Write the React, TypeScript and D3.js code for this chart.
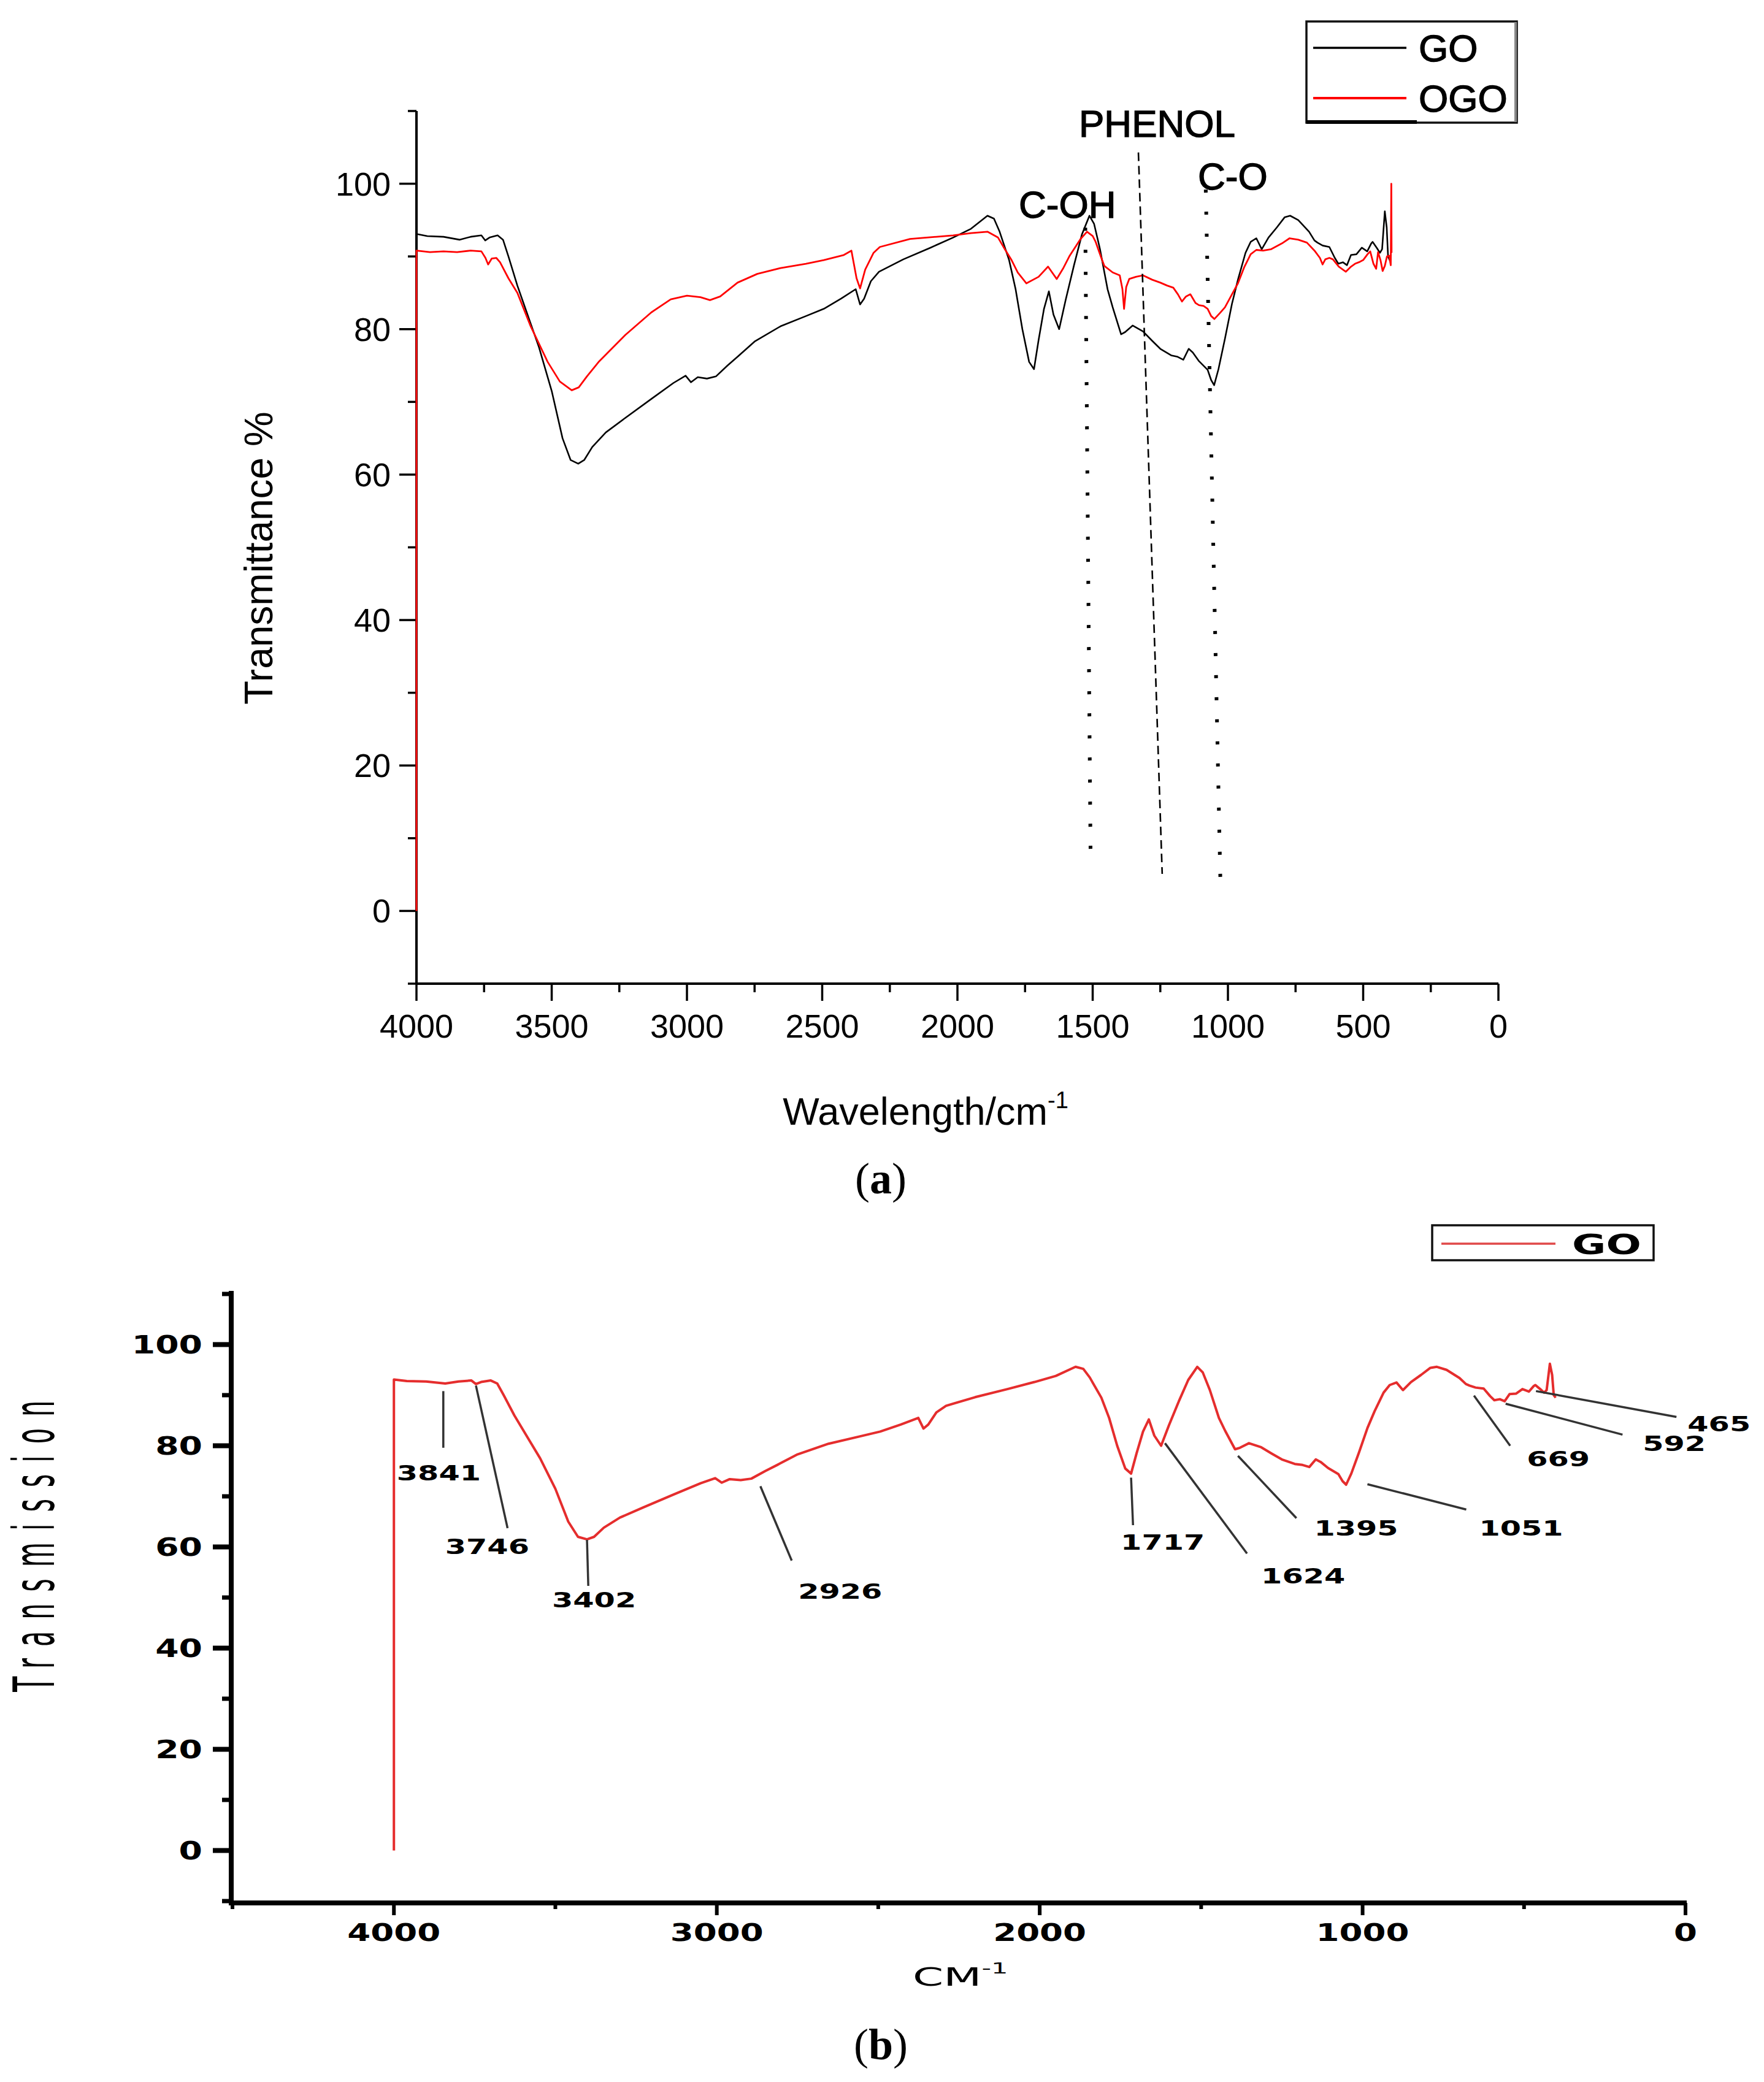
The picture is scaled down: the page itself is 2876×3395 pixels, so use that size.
import React from "react";
import * as d3 from "d3";

// FTIR spectra, [wavenumber (cm-1), transmittance %]
const goSpectrum: [number, number][] = [
  [4000, 0], [4000, 93.1], [3960, 92.8], [3900, 92.7], [3841, 92.3], [3800, 92.7],
  [3760, 92.9], [3746, 92.2], [3730, 92.6], [3700, 92.9], [3680, 92.3], [3660, 90.0],
  [3627, 86.0], [3580, 81.0], [3547, 77.5], [3500, 71.5], [3460, 65.0], [3430, 62.0],
  [3402, 61.5], [3380, 62.0], [3350, 63.8], [3300, 65.8], [3228, 67.8], [3132, 70.4],
  [3050, 72.6], [3005, 73.6], [2985, 72.7], [2960, 73.4], [2926, 73.2], [2893, 73.5],
  [2850, 75.0], [2813, 76.2], [2750, 78.3], [2654, 80.4], [2560, 81.8], [2494, 82.8],
  [2430, 84.2], [2376, 85.5], [2360, 83.4], [2345, 84.2], [2320, 86.6], [2290, 87.9],
  [2200, 89.6], [2100, 91.2], [2016, 92.6], [1950, 93.8], [1889, 95.6], [1865, 95.2],
  [1845, 93.5], [1809, 89.5], [1785, 85.5], [1760, 80.0], [1735, 75.5], [1717, 74.5],
  [1700, 78.5], [1680, 82.8], [1662, 85.2], [1645, 82.0], [1624, 80.0], [1600, 84.0],
  [1569, 88.8], [1540, 93.0], [1512, 95.6], [1495, 94.5], [1473, 91.0], [1445, 85.5],
  [1426, 83.0], [1395, 79.3], [1380, 79.6], [1352, 80.5], [1314, 79.7], [1280, 78.4],
  [1250, 77.3], [1210, 76.4], [1186, 76.2], [1165, 75.8], [1145, 77.3], [1130, 76.8],
  [1107, 75.6], [1075, 74.4], [1062, 73.0], [1051, 72.3], [1035, 74.5], [1011, 78.7],
  [985, 83.5], [963, 86.8], [935, 90.5], [916, 92.0], [895, 92.5], [875, 91.0],
  [850, 92.6], [819, 94.0], [790, 95.4], [770, 95.6], [740, 95.0], [700, 93.4],
  [680, 92.2], [669, 91.9], [650, 91.5], [625, 91.3], [605, 89.8], [592, 89.0],
  [575, 89.2], [560, 88.8], [545, 90.2], [525, 90.3], [505, 91.2], [485, 90.7],
  [470, 91.8], [465, 92.0], [450, 91.2], [438, 90.5], [430, 91.0], [420, 96.2],
  [413, 94.0], [408, 90.0], [402, 89.5],
];

const ogoSpectrum: [number, number][] = [
  [4000, 0], [4000, 90.8], [3950, 90.6], [3900, 90.7], [3850, 90.6], [3800, 90.8],
  [3760, 90.7], [3745, 89.8], [3735, 88.9], [3722, 89.7], [3705, 89.8], [3691, 89.2],
  [3660, 87.0], [3627, 85.0], [3579, 80.5], [3515, 75.5], [3470, 72.8], [3426, 71.6],
  [3400, 72.0], [3370, 73.5], [3324, 75.6], [3228, 79.2], [3132, 82.3], [3060, 84.1],
  [3000, 84.6], [2950, 84.4], [2915, 84.0], [2877, 84.5], [2813, 86.4], [2740, 87.6],
  [2654, 88.4], [2560, 89.0], [2494, 89.5], [2420, 90.2], [2392, 90.8], [2373, 87.0],
  [2360, 85.6], [2341, 88.2], [2310, 90.5], [2287, 91.3], [2175, 92.4], [2016, 92.9],
  [1950, 93.2], [1889, 93.4], [1850, 92.6], [1825, 91.0], [1800, 89.5], [1777, 87.8],
  [1745, 86.3], [1700, 87.2], [1665, 88.6], [1650, 87.8], [1633, 86.9], [1610, 88.3],
  [1585, 90.1], [1545, 92.4], [1521, 93.4], [1500, 92.8], [1489, 92.0], [1470, 90.0],
  [1457, 88.7], [1426, 87.8], [1400, 87.4], [1390, 85.5], [1384, 82.8], [1376, 85.8],
  [1365, 86.9], [1340, 87.2], [1314, 87.4], [1280, 86.8], [1250, 86.4], [1225, 86.0],
  [1202, 85.7], [1185, 84.8], [1170, 83.8], [1155, 84.5], [1139, 84.8], [1120, 83.6],
  [1107, 83.3], [1090, 83.2], [1075, 82.8], [1062, 81.8], [1050, 81.4], [1030, 82.2],
  [1011, 83.0], [985, 84.8], [963, 86.3], [940, 88.5], [916, 90.3], [895, 90.9],
  [870, 90.8], [840, 91.0], [800, 91.8], [772, 92.5], [740, 92.3], [708, 91.9],
  [680, 90.8], [660, 89.8], [650, 88.9], [640, 89.6], [625, 89.8], [612, 89.6],
  [590, 88.6], [564, 87.9], [545, 88.6], [530, 89.0], [516, 89.2], [500, 89.5],
  [484, 90.3], [474, 90.7], [462, 89.0], [452, 88.3], [445, 90.6], [436, 89.5],
  [428, 88.0], [420, 88.7], [412, 90.0], [404, 90.1], [398, 88.8], [396, 100], [395, 90.5],
];

const xTicksA = [4000, 3500, 3000, 2500, 2000, 1500, 1000, 500, 0];
const xMinorA = [3750, 3250, 2750, 2250, 1750, 1250, 750, 250];
const xTicksB = [4000, 3000, 2000, 1000, 0];
const xMinorB = [4500, 3500, 2500, 1500, 500];
const yTicks = [0, 20, 40, 60, 80, 100];
const yMinor = [-10, 10, 30, 50, 70, 90, 110];

// band assignments drawn over panel (a)
const bands = [
  { label: "C-OH", x1: 1528, y1: 97.0, x2: 1508, y2: 8.4, kind: "dot", tx: 1773, ty: 95.3 },
  { label: "PHENOL", x1: 1331, y1: 104.3, x2: 1243, y2: 5.1, kind: "dash", tx: 1551, ty: 106.5 },
  { label: "C-O", x1: 1082, y1: 99.2, x2: 1027, y2: 2.6, kind: "dot", tx: 1111, ty: 99.2 },
];

// peak labels of panel (b): leader line from/to, label centre/baseline
const peaks = [
  { label: "3841", from: [3847, 90.8], to: [3847, 79.6], at: [3861, 73.1] },
  { label: "3746", from: [3746, 91.9], to: [3648, 63.7], at: [3711, 58.6] },
  { label: "3402", from: [3402, 61.4], to: [3398, 52.3], at: [3380, 48.1] },
  { label: "2926", from: [2865, 72.0], to: [2768, 57.3], at: [2618, 49.7] },
  { label: "1717", from: [1717, 73.7], to: [1711, 64.3], at: [1619, 59.5] },
  { label: "1624", from: [1612, 80.5], to: [1358, 58.7], at: [1184, 52.8] },
  { label: "1395", from: [1386, 78.0], to: [1205, 65.7], at: [1020, 62.2] },
  { label: "1051", from: [985, 72.4], to: [679, 67.4], at: [509, 62.2] },
  { label: "669", from: [655, 89.9], to: [543, 80.0], at: [394, 75.9] },
  { label: "592", from: [557, 88.3], to: [195, 82.2], at: [35, 79.0] },
  { label: "465", from: [463, 90.8], to: [28, 85.7], at: [-104, 82.8] },
];

const sansA = "'Liberation Sans', Arial, sans-serif";
const sansB = "'DejaVu Sans', Verdana, sans-serif";
const serif = "'Liberation Serif', 'Times New Roman', serif";

function PanelA() {
  const x = d3.scaleLinear().domain([4000, 0]).range([679, 2443]);
  const y = d3.scaleLinear().domain([-10, 110]).range([1604, 181]);
  const line = d3.line<[number, number]>().x(d => x(d[0])).y(d => y(d[1]));
  const axisY = y(-10);

  return (
    <g>
      {/* axes */}
      <line x1={x(4000)} x2={x(0)} y1={axisY} y2={axisY} stroke="#000" strokeWidth={4} />
      <line x1={x(4000)} x2={x(4000)} y1={y(110)} y2={axisY} stroke="#000" strokeWidth={4} />
      {xTicksA.map(t => (
        <g key={"xa" + t}>
          <line x1={x(t)} x2={x(t)} y1={axisY} y2={axisY + 28} stroke="#000" strokeWidth={3.5} />
          <text x={x(t)} y={1692} textAnchor="middle" fontFamily={sansA} fontSize={54}>{t}</text>
        </g>
      ))}
      {xMinorA.map(t => (
        <line key={"xam" + t} x1={x(t)} x2={x(t)} y1={axisY} y2={axisY + 14} stroke="#000" strokeWidth={3.5} />
      ))}
      {yTicks.map(t => (
        <g key={"ya" + t}>
          <line x1={x(4000) - 28} x2={x(4000)} y1={y(t)} y2={y(t)} stroke="#000" strokeWidth={3.5} />
          <text x={637} y={y(t) + 19} textAnchor="end" fontFamily={sansA} fontSize={54}>{t}</text>
        </g>
      ))}
      {yMinor.map(t => (
        <line key={"yam" + t} x1={x(4000) - 14} x2={x(4000)} y1={y(t)} y2={y(t)} stroke="#000" strokeWidth={3.5} />
      ))}

      {/* spectra */}
      <path d={line(goSpectrum) ?? ""} fill="none" stroke="#000" strokeWidth={2.6} strokeLinejoin="round" />
      <path d={line(ogoSpectrum) ?? ""} fill="none" stroke="#ff0000" strokeWidth={2.8} strokeLinejoin="round" />

      {/* band markers */}
      {bands.map(b => (
        <g key={b.label}>
          <line
            x1={x(b.x1)} y1={y(b.y1)} x2={x(b.x2)} y2={y(b.y2)}
            stroke="#000"
            strokeWidth={b.kind === "dot" ? 6 : 2.6}
            strokeDasharray={b.kind === "dot" ? "5 31" : "14 8"}
          />
          <text x={x(b.tx)} y={y(b.ty)} fontFamily={sansA} fontSize={62} stroke="#000" strokeWidth={1.4}>
            {b.label}
          </text>
        </g>
      ))}

      {/* axis titles */}
      <text transform="translate(444,910) rotate(-90)" textAnchor="middle" fontFamily={sansA} fontSize={64}>
        Transmittance %
      </text>
      <text x={1509} y={1834} textAnchor="middle" fontFamily={sansA} fontSize={63}>
        Wavelength/cm
        <tspan fontSize={38} dy={-27}>-1</tspan>
      </text>
      <text x={1436} y={1946} textAnchor="middle" fontFamily={serif} fontSize={72}>
        (<tspan fontWeight="bold">a</tspan>)
      </text>

      {/* legend */}
      <rect x={2130} y={35} width={343} height={165} fill="#fff" stroke="#111" strokeWidth={3.5} />
      <line x1={2471} x2={2471} y1={36} y2={199} stroke="#888" strokeWidth={4} />
      <line x1={2130} x2={2310} y1={199} y2={199} stroke="#000" strokeWidth={6} />
      <line x1={2141} x2={2293} y1={78} y2={78} stroke="#000" strokeWidth={3.5} />
      <line x1={2141} x2={2293} y1={160} y2={160} stroke="#ff0000" strokeWidth={4} />
      <text x={2313} y={100} fontFamily={sansA} fontSize={62} stroke="#000" strokeWidth={1.4}>GO</text>
      <text x={2313} y={182} fontFamily={sansA} fontSize={62} stroke="#000" strokeWidth={1.4}>OGO</text>
    </g>
  );
}

// horizontally stretched text, as set in panel (b)
function Wide({ x, y, sx, anchor, size, weight, children }: any) {
  return (
    <text
      transform={`translate(${x},${y}) scale(${sx},1)`}
      textAnchor={anchor}
      fontFamily={sansB}
      fontSize={size}
      fontWeight={weight}
    >
      {children}
    </text>
  );
}

function PanelB() {
  const x = d3.scaleLinear().domain([4500, 0]).range([379, 2748]);
  const y = d3.scaleLinear().domain([-10, 110]).range([3100, 2110]);
  const line = d3.line<[number, number]>().x(d => x(d[0])).y(d => y(d[1]));
  const axisY = 3103;
  const axisX = 377;
  const red = "#e52d2d";

  return (
    <g>
      <line x1={axisX - 4} x2={x(0) + 2} y1={axisY} y2={axisY} stroke="#000" strokeWidth={8} />
      <line x1={axisX} x2={axisX} y1={2105} y2={axisY} stroke="#000" strokeWidth={8} />
      {xTicksB.map(t => (
        <g key={"xb" + t}>
          <line x1={x(t)} x2={x(t)} y1={axisY} y2={axisY + 20} stroke="#000" strokeWidth={6} />
          <Wide x={x(t)} y={3165} sx={1.4} anchor="middle" size={39} weight="bold">{t}</Wide>
        </g>
      ))}
      {xMinorB.map(t => (
        <line key={"xbm" + t} x1={x(t)} x2={x(t)} y1={axisY} y2={axisY + 10} stroke="#000" strokeWidth={6} />
      ))}
      {yTicks.map(t => (
        <g key={"yb" + t}>
          <line x1={axisX - 30} x2={axisX} y1={y(t)} y2={y(t)} stroke="#000" strokeWidth={8} />
          <Wide x={330} y={y(t) + 14} sx={1.38} anchor="end" size={40} weight="bold">{t}</Wide>
        </g>
      ))}
      {yMinor.map(t => (
        <line key={"ybm" + t} x1={axisX - 15} x2={axisX} y1={y(t)} y2={y(t)} stroke="#000" strokeWidth={7} />
      ))}

      <path d={line(goSpectrum) ?? ""} fill="none" stroke={red} strokeWidth={4} strokeLinejoin="round" />

      {peaks.map(p => (
        <g key={p.label}>
          <line
            x1={x(p.from[0])} y1={y(p.from[1])} x2={x(p.to[0])} y2={y(p.to[1])}
            stroke="#333" strokeWidth={3.5}
          />
          <Wide x={x(p.at[0])} y={y(p.at[1])} sx={1.45} anchor="middle" size={34} weight="bold">
            {p.label}
          </Wide>
        </g>
      ))}

      {/* axis titles */}
      <text
        transform="translate(88,2512) rotate(-90) scale(0.45,1)"
        textAnchor="middle"
        fontFamily={sansB}
        fontSize={92}
        letterSpacing={42}
      >
        Transmission
      </text>
      <text transform="translate(1488,3238) scale(1.8,1)" fontFamily={sansB} fontSize={40}>
        CM<tspan fontSize={24} dy={-20}>-1</tspan>
      </text>
      <text x={1436} y={3358} textAnchor="middle" fontFamily={serif} fontSize={72}>
        (<tspan fontWeight="bold">b</tspan>)
      </text>

      {/* legend */}
      <rect x={2335} y={1998} width={361} height={57} fill="#fff" stroke="#111" strokeWidth={3.5} />
      <line x1={2350} x2={2536} y1={2028} y2={2028} stroke="#e04848" strokeWidth={3.5} />
      <Wide x={2563} y={2045} sx={1.5} anchor="start" size={45} weight="bold">GO</Wide>
    </g>
  );
}

export default function App() {
  return (
    <svg
      width={2876}
      height={3395}
      viewBox="0 0 2876 3395"
      style={{ position: "absolute", left: 0, top: 0, background: "#fff" }}
    >
      <rect width={2876} height={3395} fill="#fff" />
      <PanelA />
      <PanelB />
    </svg>
  );
}
